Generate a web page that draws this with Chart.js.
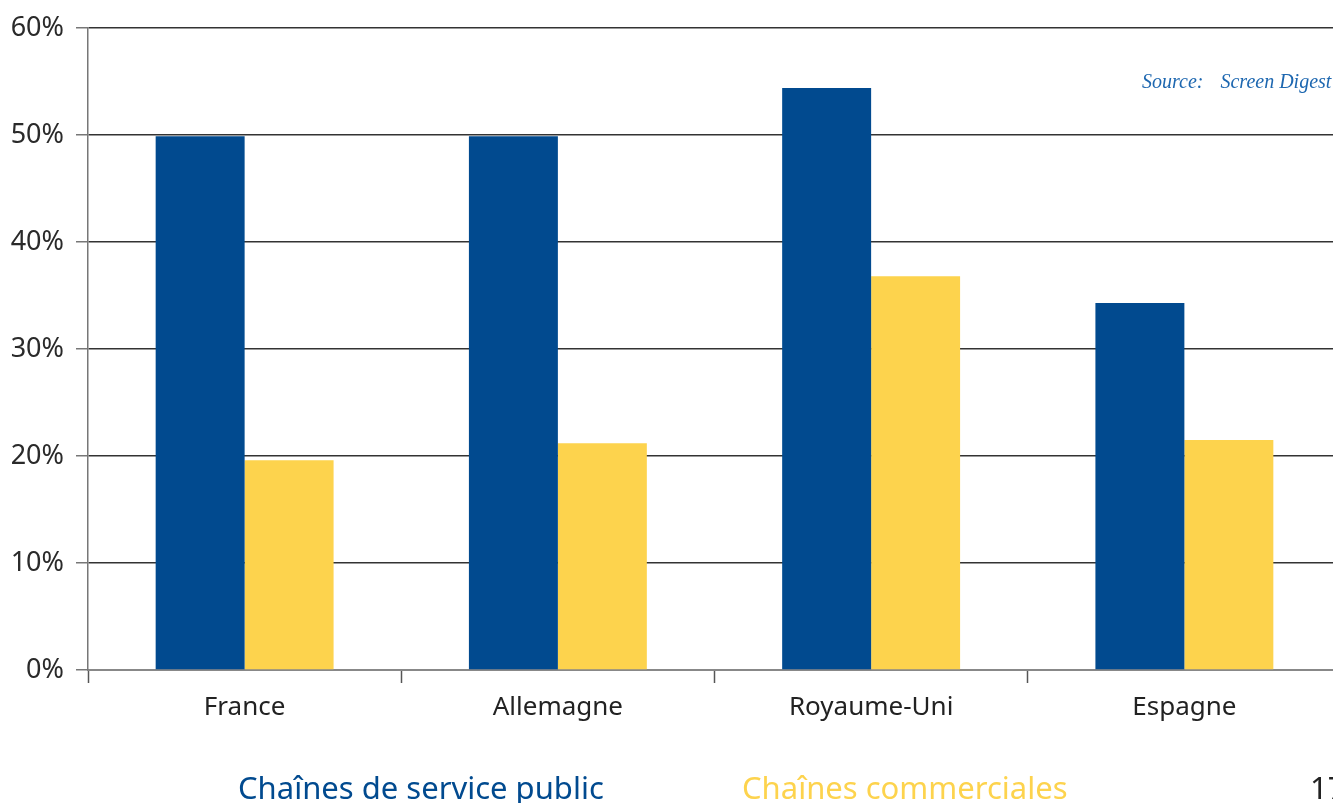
<!DOCTYPE html>
<html lang="fr">
<head>
<meta charset="utf-8">
<script src="https://cdn.jsdelivr.net/npm/chart.js@4.4.1/dist/chart.umd.min.js"></script>
<style>
  html, body { margin: 0; padding: 0; background: #fff; overflow: hidden; width: 1333px; height: 803px; }
  #wrap { position: relative; width: 1341px; height: 803px; }
  #source { position: absolute; left: 1142px; top: 70px; font: italic 20px "Liberation Serif", serif; color: #1d67b0; white-space: nowrap; }
  #source .gap { display: inline-block; width: 17px; }
  #legend { position: absolute; top: 772px; left: 0; font: 31px "Noto Sans", sans-serif; line-height: 1; white-space: nowrap; }
  #legend span { position: absolute; top: 0; }
  #page { position: absolute; left: 1310px; top: 772px; font: 31px "Noto Sans", sans-serif; line-height: 1; color: #222; }
</style>
</head>
<body>
<div id="wrap">
  <canvas id="shareChart" width="1341" height="803"></canvas>
  <div id="source">Source:<span class="gap"></span>Screen Digest</div>
  <div id="legend"></div>
  <div id="page">17</div>
</div>
<script>
const countries = ['France', 'Allemagne', 'Royaume-Uni', 'Espagne'];
const publicShare = [49.9, 49.9, 54.4, 34.3];
const commercialShare = [19.6, 21.2, 36.8, 21.5];
const seriesNames = ['Chaînes de service public', 'Chaînes commerciales'];
const seriesColors = ['#014a8f', '#fdd34d'];
const legendLeft = [238, 742];

const chart = new Chart(document.getElementById('shareChart'), {
    type: 'bar',
    data: {
        labels: countries,
        datasets: [
            { label: seriesNames[0], data: publicShare, backgroundColor: seriesColors[0] },
            { label: seriesNames[1], data: commercialShare, backgroundColor: seriesColors[1] }
        ]
    },
    options: {
        responsive: false,
        animation: false,
        layout: { padding: { top: 28, left: 0, right: 0, bottom: 0 } },
        datasets: {
            bar: { barPercentage: 1, categoryPercentage: 0.568 }
        },
        plugins: {
            legend: { display: false },
            tooltip: { enabled: false }
        },
        scales: {
            x: {
                z: 1,
                grid: { drawOnChartArea: false, drawTicks: true, tickLength: 13, tickColor: '#555', tickWidth: 1.5 },
                border: { color: '#888', width: 2 },
                ticks: { color: '#222', font: { family: 'Noto Sans', size: 26 }, padding: 9 },
                afterFit: scale => { scale.height = 133; }
            },
            y: {
                min: 0,
                max: 60,
                grid: {
                    color: c => (c.tick && c.tick.value === 0 ? 'rgba(0,0,0,0)' : '#333'),
                    lineWidth: 1.5,
                    tickLength: 12,
                    tickColor: '#777'
                },
                border: { color: '#777', width: 1.5 },
                ticks: {
                    stepSize: 10,
                    color: '#2a2a2a',
                    font: { family: 'Noto Sans', size: 27 },
                    padding: 12,
                    callback: v => v + '%'
                },
                afterFit: scale => { scale.width = 88; }
            }
        }
    }
});

// legend built from the chart's datasets: coloured text, no swatch
const legendEl = document.getElementById('legend');
chart.data.datasets.forEach((ds, i) => {
    const item = document.createElement('span');
    item.textContent = ds.label;
    item.style.color = ds.backgroundColor;
    item.style.left = legendLeft[i] + 'px';
    legendEl.appendChild(item);
});
</script>
</body>
</html>
